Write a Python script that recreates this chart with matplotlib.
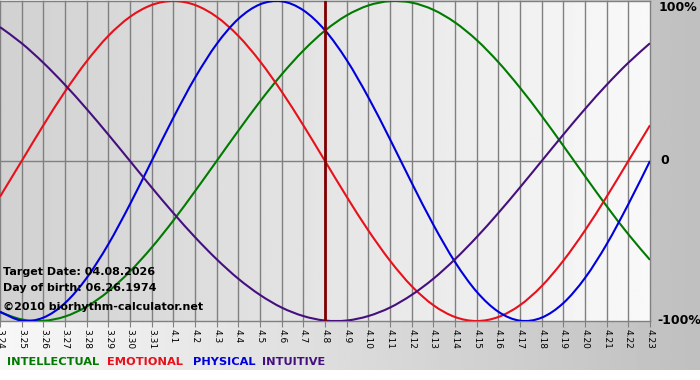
import matplotlib
matplotlib.use("Agg")
import matplotlib.pyplot as plt
from matplotlib.path import Path
from matplotlib.patches import PathPatch
import numpy as np

W, H = 700, 380

dates = ["3.24", "3.25", "3.26", "3.27", "3.28", "3.29", "3.30", "3.31",
         "4.1", "4.2", "4.3", "4.4", "4.5", "4.6", "4.7", "4.8", "4.9",
         "4.10", "4.11", "4.12", "4.13", "4.14", "4.15", "4.16", "4.17",
         "4.18", "4.19", "4.20", "4.21", "4.22", "4.23"]
target = "4.8"

# values read per day, -1 .. 1
physical = [-0.942, -0.998, -0.979, -0.888, -0.731, -0.520, -0.270, 0.000,
            0.270, 0.520, 0.731, 0.888, 0.979, 0.998, 0.942, 0.817,
            0.631, 0.398, 0.136, -0.136, -0.398, -0.631, -0.817, -0.942,
            -0.998, -0.979, -0.888, -0.731, -0.520, -0.270, 0.000]
emotional = [-0.223, 0.000, 0.223, 0.434, 0.623, 0.782, 0.901, 0.975, 1.000,
             0.975, 0.901, 0.782, 0.623, 0.434, 0.223, 0.000, -0.223, -0.434,
             -0.623, -0.782, -0.901, -0.975, -1.000, -0.975, -0.901, -0.782,
             -0.623, -0.434, -0.223, 0.000, 0.223]
intellectual = [-0.945, -0.990, -0.999, -0.972, -0.910, -0.815, -0.690, -0.541,
                -0.372, -0.189, 0.000, 0.189, 0.372, 0.541, 0.690, 0.815,
                0.910, 0.972, 0.999, 0.990, 0.945, 0.866, 0.756, 0.618,
                0.458, 0.282, 0.095, -0.095, -0.282, -0.458, -0.618]
intuitive = [0.837, 0.736, 0.614, 0.476, 0.325, 0.165, 0.000, -0.165, -0.325,
             -0.476, -0.614, -0.736, -0.837, -0.916, -0.969, -0.997, -0.997,
             -0.969, -0.916, -0.837, -0.736, -0.614, -0.476, -0.325, -0.165,
             0.000, 0.165, 0.325, 0.476, 0.614, 0.736]

series = [("INTELLECTUAL", intellectual, "#007a00"),
          ("EMOTIONAL", emotional, "#e8101a"),
          ("PHYSICAL", physical, "#0000dd"),
          ("INTUITIVE", intuitive, "#45107e")]


def smooth_path(xs, ys):
    # bezier through the day points (drawn smooth like the original)
    p = np.column_stack([xs, ys]).astype(float)
    ext = np.vstack([p[0], p, p[-1]])
    verts = [p[0]]
    codes = [Path.MOVETO]
    for i in range(len(p) - 1):
        c1 = p[i] + (ext[i + 2] - ext[i]) / 6
        c2 = p[i + 1] - (ext[i + 3] - ext[i + 1]) / 6
        verts += [c1, c2, p[i + 1]]
        codes += [Path.CURVE4] * 3
    return Path(verts, codes)


def main():
    fig = plt.figure(figsize=(W / 100, H / 100), dpi=100)
    fig.patch.set_facecolor("white")

    # grey backdrop, light on the left, darker on the right
    bg = fig.add_axes([0, 10 / H, 1, 1 - 10 / H])
    g = np.linspace(0.97, 0.75, 256)
    bg.imshow(np.tile(g, (2, 1)), cmap="gray", vmin=0, vmax=1, aspect="auto")
    bg.axis("off")

    x = np.arange(len(dates))
    ax = fig.add_axes([0, (H - 321) / H, 650 / W, 320 / H])
    g2 = np.linspace(0.82, 0.975, 256)
    ax.imshow(np.tile(g2, (2, 1)), cmap="gray", vmin=0, vmax=1, aspect="auto",
              extent=(0, len(dates) - 1, -1, 1), zorder=0)
    ax.set_xlim(0, len(dates) - 1)
    ax.set_ylim(-1, 1)
    for s in ax.spines.values():
        s.set_visible(False)

    ax.set_xticks(x)
    ax.set_xticklabels(dates, rotation=270, fontsize=6.5)
    ax.tick_params(axis="x", length=4, color="#808080", pad=2)
    ax.set_yticks([-1, 0, 1])
    ax.tick_params(axis="y", length=0, labelleft=False)
    ax.grid(True, color="#808080", lw=1)
    for gl in ax.get_xgridlines() + ax.get_ygridlines():
        gl.set_clip_on(False)

    for name, vals, col in series:
        ax.add_patch(PathPatch(smooth_path(x, vals), fill=False, edgecolor=col,
                               lw=1.5, zorder=3))

    ax.axvline(dates.index(target), color="#800000", lw=2, zorder=4)

    ax.text(1.013, 1.0, "100%", transform=ax.transAxes, fontsize=9,
            fontweight="bold", va="top", ha="left")
    ax.text(1.016, 0.5, "0", transform=ax.transAxes, fontsize=9,
            fontweight="bold", va="center", ha="left")
    ax.text(1.011, 0.0, "-100%", transform=ax.transAxes, fontsize=9,
            fontweight="bold", va="center", ha="left")

    info = ["Target Date: 04.08.2026", "Day of birth: 06.26.1974",
            "\u00a92010 biorhythm-calculator.net"]
    for t, yy in zip(info, [272, 288, 307]):
        fig.text(3 / W, 1 - yy / H, t, fontsize=8, fontweight="bold",
                 va="center", ha="left", zorder=10)

    for (name, vals, col), xx in zip(series, [7, 107, 193, 262]):
        fig.text(xx / W, 1 - 362 / H, name, color=col, fontsize=8.2,
                 fontweight="bold", va="center", ha="left")

    plt.savefig("out.png", dpi=100)


if __name__ == '__main__':
    main()
